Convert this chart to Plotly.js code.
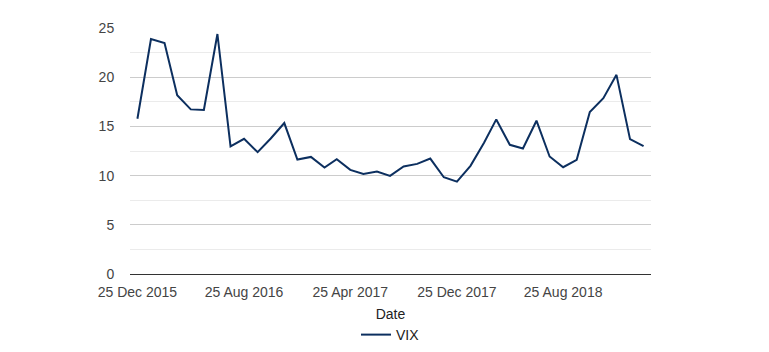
<!DOCTYPE html>
<html>
<head>
<meta charset="utf-8">
<script src="https://cdn.plot.ly/plotly-3.0.1.min.js"></script>
<style>
  html, body { margin: 0; padding: 0; background: #fff; }
  #chart { width: 769px; height: 352px; }
</style>
</head>
<body>
<div id="chart"></div>
<script>
const dates = [
  '2015-12-25','2016-01-25','2016-02-25','2016-03-25','2016-04-25','2016-05-25',
  '2016-06-25','2016-07-25','2016-08-25','2016-09-25','2016-10-25','2016-11-25',
  '2016-12-25','2017-01-25','2017-02-25','2017-03-25','2017-04-25','2017-05-25',
  '2017-06-25','2017-07-25','2017-08-25','2017-09-25','2017-10-25','2017-11-25',
  '2017-12-25','2018-01-25','2018-02-25','2018-03-25','2018-04-25','2018-05-25',
  '2018-06-25','2018-07-25','2018-08-25','2018-09-25','2018-10-25','2018-11-25',
  '2018-12-25','2019-01-25','2019-02-25'
];
const vix = [
  15.78, 23.88, 23.47, 18.16, 16.73, 16.67,
  24.39, 12.96, 13.74, 12.38, 13.77, 15.34,
  11.63, 11.90, 10.82, 11.67, 10.58, 10.17,
  10.41, 9.97, 10.92, 11.19, 11.73, 9.83,
  9.39, 10.99, 13.33, 15.71, 13.13, 12.76,
  15.58, 11.94, 10.85, 11.60, 16.46, 17.86,
  20.24, 13.71, 12.99
];
const seriesName = 'VIX';
const xTitle = 'Date';

const font = 'Arial, "Liberation Sans", sans-serif';

const trace = {
  x: dates,
  y: vix,
  type: 'scatter',
  mode: 'lines',
  name: seriesName,
  line: { color: '#0c2f5f', width: 2 },
  hoverinfo: 'skip'
};

const layout = {
  width: 769,
  height: 352,
  margin: { l: 130, r: 118, t: 28, b: 78, autoexpand: false },
  paper_bgcolor: '#ffffff',
  plot_bgcolor: '#ffffff',
  font: { family: font, size: 14, color: '#444444' },
  showlegend: true,
  legend: {
    orientation: 'h',
    x: 0.5, xanchor: 'center',
    y: -0.248, yanchor: 'middle',
    font: { family: font, size: 14, color: '#222222' },
    bgcolor: 'rgba(0,0,0,0)'
  },
  xaxis: {
    type: 'date',
    range: ['2015-12-08', '2019-03-14'],
    tick0: '2015-12-25',
    dtick: 'M8',
    tickformat: '%d %b %Y',
    showgrid: false,
    zeroline: false,
    showline: true,
    linecolor: '#333333',
    linewidth: 1,
    ticks: 'outside',
    ticklen: 5,
    tickcolor: 'rgba(0,0,0,0)',
    tickfont: { family: font, size: 14, color: '#444444' },
    title: { text: xTitle, font: { family: font, size: 14, color: '#222222' }, standoff: 10 },
    automargin: false,
    fixedrange: true
  },
  yaxis: {
    range: [0, 25],
    dtick: 5,
    tick0: 0,
    showgrid: true,
    gridcolor: '#cccccc',
    gridwidth: 1,
    zeroline: false,
    showline: false,
    ticks: 'outside',
    ticklen: 12,
    tickcolor: 'rgba(0,0,0,0)',
    tickfont: { family: font, size: 14, color: '#444444' },
    minor: { dtick: 2.5, showgrid: true, gridcolor: '#ebebeb', gridwidth: 1 },
    automargin: false,
    fixedrange: true
  }
};

Plotly.newPlot('chart', [trace], layout, { displayModeBar: false, staticPlot: true });
</script>
</body>
</html>
